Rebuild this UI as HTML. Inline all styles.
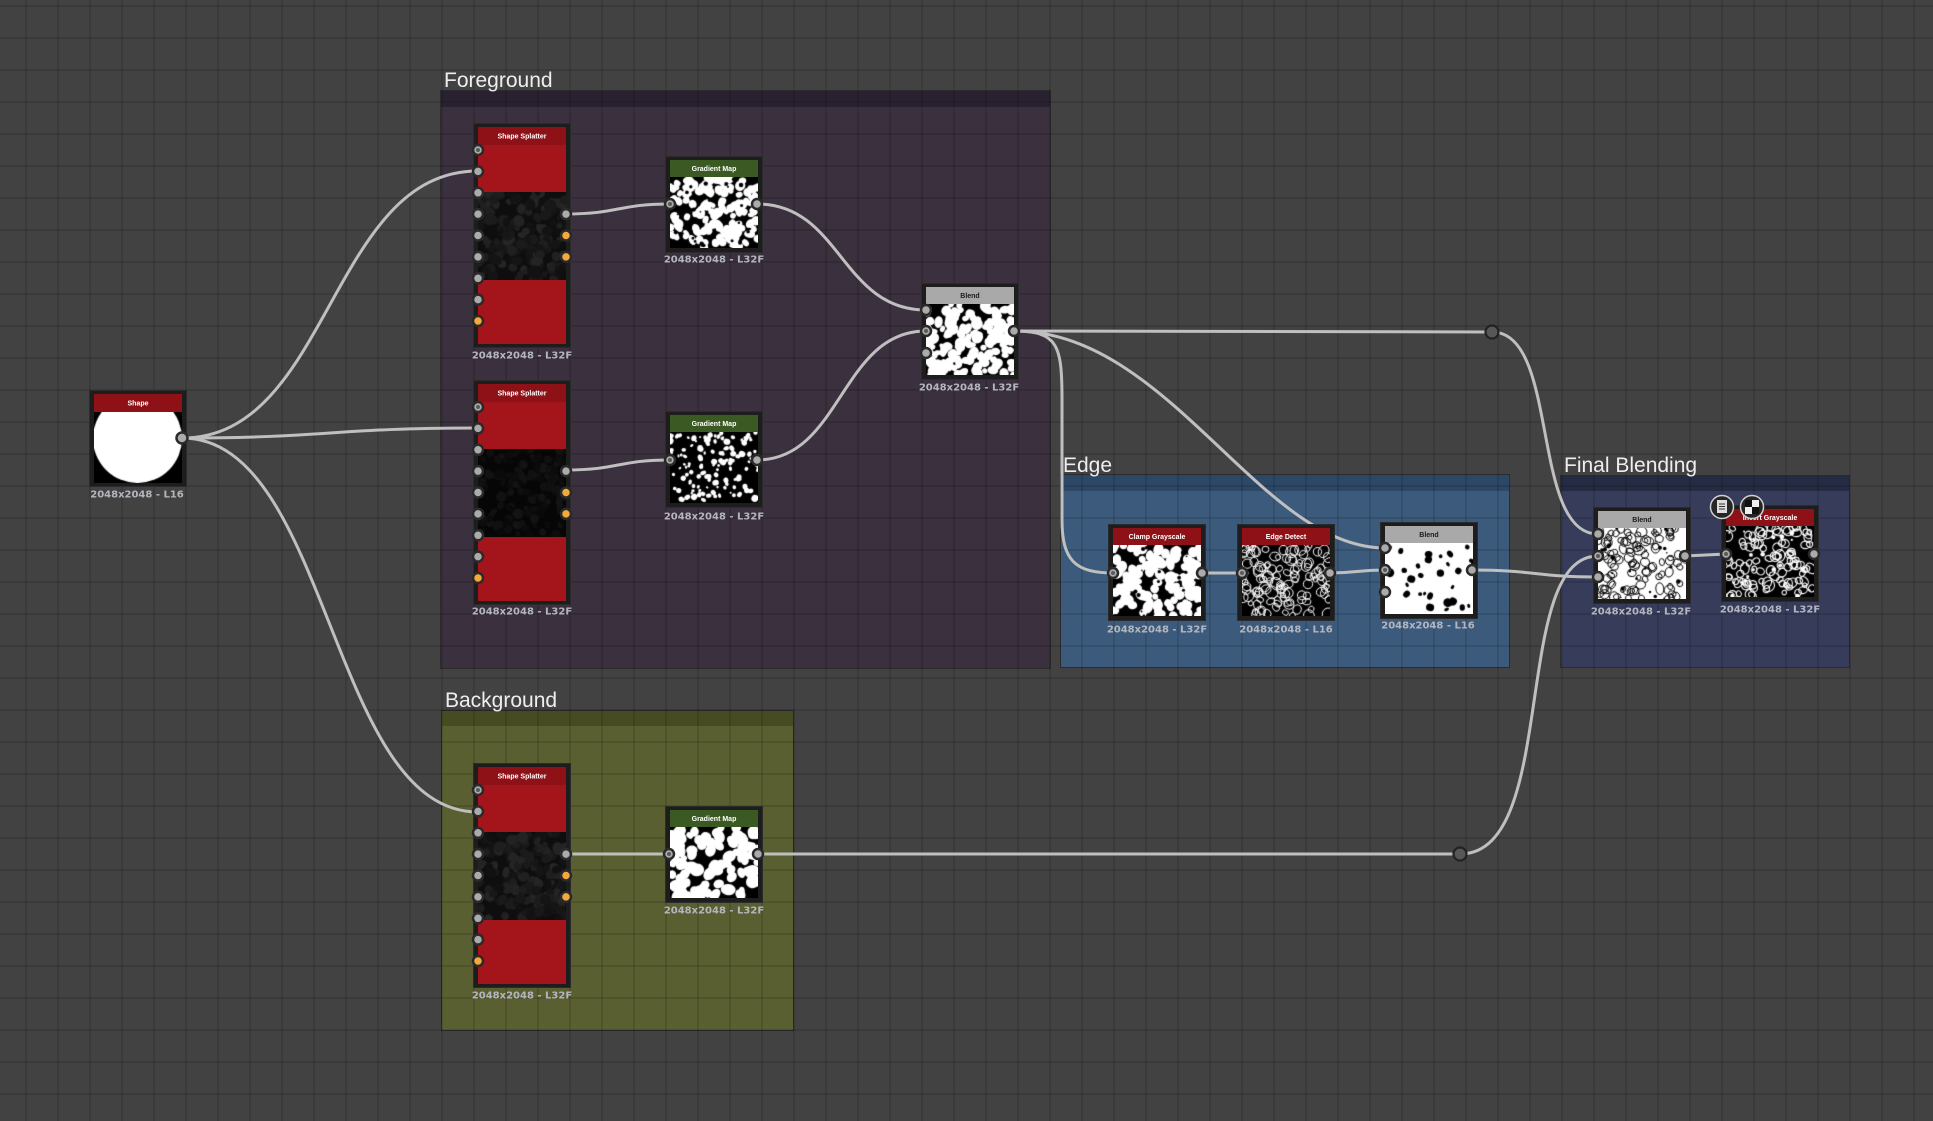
<!DOCTYPE html>
<html><head><meta charset="utf-8">
<style>
html,body{margin:0;padding:0;}
body{width:1933px;height:1121px;overflow:hidden;position:relative;background:#424242;font-family:"Liberation Sans",sans-serif;}
.g{position:absolute;box-shadow:0 0 0 1px rgba(0,0,0,0.35);}
.gh{position:absolute;left:0;top:0;right:0;}
#grid{position:absolute;left:0;top:0;width:1933px;height:1121px;z-index:1;
background-image:linear-gradient(to right,rgba(0,0,0,0.12) 2px,transparent 2px),linear-gradient(to bottom,rgba(0,0,0,0.12) 2px,transparent 2px);
background-size:32px 32px;background-position:25px 5px;}
svg.layer{position:absolute;left:0;top:0;width:1933px;height:1121px;}
#wires{z-index:2;}
#top{z-index:4;}
.n{position:absolute;background:#1d1d1d;z-index:3;box-shadow:0 0 0 1px #2b2b2b;width:96px;height:95px;}
.n .hd{position:absolute;left:4px;top:3px;width:88px;height:17px;}
.n canvas{position:absolute;left:4px;top:20px;width:88px;height:71px;background:#777;}
.red{background:#8d1116;}
.grn{background:#3b5a23;}
.gry{background:#a9a9a9;}
.sp{height:223px;}
.sp .r1{position:absolute;left:4px;top:21px;width:88px;height:47px;background:#a3141b;}
.sp .r2{position:absolute;left:4px;top:156px;width:88px;height:64px;background:#a3141b;}
.sp canvas{top:68px;height:88px;background:#141414;}
</style></head>
<body>

<!-- groups -->
<div class="g" style="left:441px;top:91px;width:609px;height:577px;background:#3b303e;"><div class="gh" style="height:16px;background:#2a2130;"></div></div>
<div class="g" style="left:442px;top:711px;width:351px;height:319px;background:#5a5f31;"><div class="gh" style="height:15px;background:#474b22;"></div></div>
<div class="g" style="left:1061px;top:475px;width:448px;height:192px;background:#3c5b7c;"><div class="gh" style="height:16px;background:#2c4866;"></div></div>
<div class="g" style="left:1561px;top:476px;width:288px;height:191px;background:#363c5a;"><div class="gh" style="height:15px;background:#262b44;"></div></div>

<div id="grid"></div>

<!-- wires -->
<svg id="wires" class="layer" viewBox="0 0 1933 1121">
<g fill="none" stroke="#bfbfbf" stroke-width="3" stroke-linecap="round">
<path d="M182,438 C330,438 330,171 478,171"/>
<path d="M182,438 C330,438 330,428 478,428"/>
<path d="M182,438 C330,438 330,812 478,812"/>
<path d="M566,214 C618,214 618,204 670,204"/>
<path d="M566,470 C618,470 618,460 670,460"/>
<path d="M566,854 L669,854"/>
<path d="M757,204 C841,204 841,310 926,310"/>
<path d="M757,460 C841,460 841,331 926,331"/>
<path d="M1014,331 L1492,332"/>
<path d="M1014,331 C1058,331 1062,345 1062,400 L1062,520 C1062,560 1075,573 1113,573"/>
<path d="M1014,331 C1170,331 1260,548 1385,548"/>
<path d="M1202,573 L1242,573"/>
<path d="M1330,573 C1357,573 1357,570 1385,570"/>
<path d="M1472,570 C1535,570 1535,577 1598,577"/>
<path d="M1492,332 C1560,332 1530,534 1598,534"/>
<path d="M758,854 L1460,854"/>
<path d="M1460,854 C1560,854 1510,556 1598,556"/>
<path d="M1685,556 L1726,554"/>
</g>
</svg>

<!-- nodes -->
<div class="n" style="left:90px;top:391px;"><div class="hd red" style="height:18px"></div><canvas id="c_shape" width="88" height="71" style="top:21px;height:71px"></canvas></div>

<div class="n sp" style="left:474px;top:124px;"><div class="hd red" style="height:18px"></div><div class="r1"></div><canvas id="c_sp1" width="88" height="88"></canvas><div class="r2"></div></div>
<div class="n sp" style="left:474px;top:381px;"><div class="hd red" style="height:18px"></div><div class="r1"></div><canvas id="c_sp2" width="88" height="88"></canvas><div class="r2"></div></div>
<div class="n sp" style="left:474px;top:764px;"><div class="hd red" style="height:18px"></div><div class="r1"></div><canvas id="c_sp3" width="88" height="88"></canvas><div class="r2"></div></div>

<div class="n" style="left:666px;top:157px;"><div class="hd grn"></div><canvas id="c_gm1" width="88" height="71"></canvas></div>
<div class="n" style="left:666px;top:412px;"><div class="hd grn"></div><canvas id="c_gm2" width="88" height="71"></canvas></div>
<div class="n" style="left:666px;top:807px;"><div class="hd grn"></div><canvas id="c_gm3" width="88" height="71"></canvas></div>

<div class="n" style="left:922px;top:284px;"><div class="hd gry"></div><canvas id="c_bl1" width="88" height="71"></canvas></div>

<div class="n" style="left:1109px;top:525px;"><div class="hd red"></div><canvas id="c_cl" width="88" height="71"></canvas></div>
<div class="n" style="left:1238px;top:525px;"><div class="hd red"></div><canvas id="c_ed" width="88" height="71"></canvas></div>
<div class="n" style="left:1381px;top:523px;"><div class="hd gry"></div><canvas id="c_bl2" width="88" height="71"></canvas></div>

<div class="n" style="left:1594px;top:508px;"><div class="hd gry"></div><canvas id="c_bl3" width="88" height="71"></canvas></div>
<div class="n" style="left:1722px;top:506px;"><div class="hd red"></div><canvas id="c_inv" width="88" height="71"></canvas></div>

<!-- top layer: ports, text, icons -->
<svg id="top" class="layer" viewBox="0 0 1933 1121">
<g font-family="'Liberation Sans',sans-serif" font-size="21" fill="#eeeeee">
<text x="444" y="87">Foreground</text>
<text x="445" y="707">Background</text>
<text x="1063" y="472">Edge</text>
<text x="1564" y="472">Final Blending</text>
</g>

<g font-family="'Liberation Sans',sans-serif" font-size="7" font-weight="bold" text-anchor="middle" fill="#ffffff">
<text x="138" y="405.5">Shape</text>
<text x="522" y="138.5">Shape Splatter</text>
<text x="522" y="395.5">Shape Splatter</text>
<text x="522" y="778.5">Shape Splatter</text>
<text x="714" y="171">Gradient Map</text>
<text x="714" y="426">Gradient Map</text>
<text x="714" y="821">Gradient Map</text>
<text x="1157" y="539">Clamp Grayscale</text>
<text x="1286" y="539">Edge Detect</text>
<text x="1770" y="520">Invert Grayscale</text>
</g>
<g font-family="'Liberation Sans',sans-serif" font-size="7" font-weight="bold" text-anchor="middle" fill="#1a1a1a">
<text x="970" y="298">Blend</text>
<text x="1429" y="537">Blend</text>
<text x="1642" y="522">Blend</text>
</g>

<g font-family="'DejaVu Sans',sans-serif" font-size="10" font-weight="bold" text-anchor="middle" fill="#b4b6bf">
<text x="137" y="497.6">2048x2048 - L16</text>
<text x="522" y="358.6">2048x2048 - L32F</text>
<text x="522" y="614.6">2048x2048 - L32F</text>
<text x="522" y="998.6">2048x2048 - L32F</text>
<text x="714" y="262.6">2048x2048 - L32F</text>
<text x="714" y="519.6">2048x2048 - L32F</text>
<text x="714" y="913.6">2048x2048 - L32F</text>
<text x="969" y="390.6">2048x2048 - L32F</text>
<text x="1157" y="632.6">2048x2048 - L32F</text>
<text x="1286" y="632.6">2048x2048 - L16</text>
<text x="1428" y="628.6">2048x2048 - L16</text>
<text x="1641" y="614.6">2048x2048 - L32F</text>
<text x="1770" y="612.6">2048x2048 - L32F</text>
</g>

<!-- grey ports -->
<g fill="#ababab" stroke="#2a2a2a" stroke-width="2.5">
<circle cx="182" cy="438" r="5.5"/>
<circle cx="478" cy="150" r="5"/><circle cx="478" cy="171.4" r="5"/><circle cx="478" cy="192.8" r="5"/><circle cx="478" cy="214.1" r="5"/><circle cx="478" cy="235.5" r="5"/><circle cx="478" cy="256.9" r="5"/><circle cx="478" cy="278.3" r="5"/><circle cx="478" cy="299.6" r="5"/>
<circle cx="566" cy="214.1" r="5"/>
<circle cx="478" cy="407" r="5"/><circle cx="478" cy="428.4" r="5"/><circle cx="478" cy="449.8" r="5"/><circle cx="478" cy="471.1" r="5"/><circle cx="478" cy="492.5" r="5"/><circle cx="478" cy="513.9" r="5"/><circle cx="478" cy="535.3" r="5"/><circle cx="478" cy="556.6" r="5"/>
<circle cx="566" cy="471.1" r="5"/>
<circle cx="478" cy="790" r="5"/><circle cx="478" cy="811.4" r="5"/><circle cx="478" cy="832.8" r="5"/><circle cx="478" cy="854.1" r="5"/><circle cx="478" cy="875.5" r="5"/><circle cx="478" cy="896.9" r="5"/><circle cx="478" cy="918.3" r="5"/><circle cx="478" cy="939.6" r="5"/>
<circle cx="566" cy="854.1" r="5"/>
<circle cx="670" cy="204" r="5"/><circle cx="757" cy="204" r="5"/>
<circle cx="670" cy="460" r="5"/><circle cx="757" cy="460" r="5"/>
<circle cx="669" cy="854" r="5"/><circle cx="758" cy="854" r="5"/>
<circle cx="926" cy="310" r="5"/><circle cx="926" cy="331" r="5"/><circle cx="926" cy="353" r="5"/><circle cx="1014" cy="331" r="5"/>
<circle cx="1113" cy="573" r="5"/><circle cx="1202" cy="573" r="5"/>
<circle cx="1242" cy="573" r="5"/><circle cx="1330" cy="573" r="5"/>
<circle cx="1385" cy="548" r="5"/><circle cx="1385" cy="570" r="5"/><circle cx="1385" cy="592" r="5"/><circle cx="1472" cy="570" r="5"/>
<circle cx="1598" cy="534" r="5"/><circle cx="1598" cy="556" r="5"/><circle cx="1598" cy="577" r="5"/><circle cx="1685" cy="556" r="5"/>
<circle cx="1726" cy="554" r="5"/><circle cx="1814" cy="554" r="5"/>
</g>
<g fill="#5a5a5a">
<circle cx="478" cy="150" r="2"/><circle cx="478" cy="407" r="2"/><circle cx="478" cy="790" r="2"/>
<circle cx="670" cy="204" r="2"/><circle cx="670" cy="460" r="2"/><circle cx="669" cy="854" r="2"/>
<circle cx="926" cy="331" r="2"/><circle cx="1113" cy="573" r="2"/><circle cx="1242" cy="573" r="2"/>
<circle cx="1385" cy="570" r="2"/><circle cx="1598" cy="556" r="2"/><circle cx="1726" cy="554" r="2"/>
</g>
<g fill="#f5a93a" stroke="#2a2a2a" stroke-width="2.5">
<circle cx="478" cy="321" r="5"/><circle cx="566" cy="235.5" r="5"/><circle cx="566" cy="256.9" r="5"/>
<circle cx="478" cy="578" r="5"/><circle cx="566" cy="492.5" r="5"/><circle cx="566" cy="513.9" r="5"/>
<circle cx="478" cy="961" r="5"/><circle cx="566" cy="875.5" r="5"/><circle cx="566" cy="896.9" r="5"/>
</g>
<g fill="#575757" stroke="#222" stroke-width="2.2">
<circle cx="1492" cy="332" r="6.5"/>
<circle cx="1460" cy="854" r="6.5"/>
</g>
<circle cx="1722" cy="507" r="11.5" fill="#262626" stroke="#d0d0d0" stroke-width="1.5"/>
<rect x="1717" y="500" width="10" height="13" fill="#dddddd"/>
<g stroke="#333" stroke-width="1"><line x1="1719" y1="504" x2="1725" y2="504"/><line x1="1719" y1="506.5" x2="1725" y2="506.5"/><line x1="1719" y1="509" x2="1725" y2="509"/></g>
<circle cx="1752" cy="507" r="11.5" fill="#262626" stroke="#d0d0d0" stroke-width="1.5"/>
<rect x="1745" y="500" width="14" height="14" fill="#eeeeee"/>
<rect x="1745" y="500" width="7" height="7" fill="#111"/>
<rect x="1752" y="507" width="7" height="7" fill="#111"/>
</svg>

<script>
function rng(a){return function(){a|=0;a=a+0x6D2B79F5|0;var t=Math.imul(a^a>>>15,1|a);t=t+Math.imul(t^t>>>7,61|t)^t;return((t^t>>>14)>>>0)/4294967296;};}
function ctxOf(id){var c=document.getElementById(id);return c?c.getContext('2d'):null;}
function blobs(id,seed,bg,fg,n,rmin,rmax,mode,lw){
  var x=ctxOf(id);if(!x)return;var c=x.canvas,w=c.width,h=c.height,r=rng(seed);
  x.fillStyle=bg;x.fillRect(0,0,w,h);
  for(var i=0;i<n;i++){
    var cx=r()*w,cy=r()*h,rad=rmin+r()*(rmax-rmin);
    x.beginPath();
    x.ellipse(cx,cy,rad*(0.75+r()*0.5),rad*(0.75+r()*0.5),r()*3.14,0,6.283);
    if(mode==='s'){x.strokeStyle=(typeof fg==='function')?fg(r):fg;x.lineWidth=lw||1;x.stroke();}
    else{x.fillStyle=(typeof fg==='function')?fg(r):fg;x.fill();}
  }
}
function greys(lo,hi){return function(r){var v=Math.round(lo+r()*(hi-lo));return 'rgb('+v+','+v+','+v+')';};}
(function(){var x=ctxOf('c_shape');if(!x)return;x.fillStyle='#000';x.fillRect(0,0,88,71);x.fillStyle='#fff';x.beginPath();x.arc(43.5,26.5,44.5,0,6.283);x.fill();})();
blobs('c_sp1',11,'#0e0e0e',greys(16,38),170,3,6);
blobs('c_sp2',12,'#060606',greys(8,20),160,2.5,5);
blobs('c_sp3',13,'#0e0e0e',greys(16,38),170,3,6);
(function(){blobs('c_gm1',21,'#000','#fff',150,2.5,5);var x=ctxOf('c_gm1');if(!x)return;var r=rng(24);x.fillStyle='#000';for(var i=0;i<30;i++){x.beginPath();x.arc(r()*88,r()*71,0.8+r()*1.5,0,6.283);x.fill();}})();
blobs('c_gm2',22,'#000','#fff',130,1.2,3);
blobs('c_gm3',23,'#000','#fff',95,3.5,6.5);
blobs('c_bl1',31,'#000','#fff',160,2.5,5.5);
(function(){blobs('c_cl',41,'#000','#fff',120,3,6);var x=ctxOf('c_cl');if(!x)return;var r=rng(44);x.fillStyle='#000';for(var i=0;i<20;i++){x.beginPath();x.arc(r()*88,r()*71,0.8+r()*1.5,0,6.283);x.fill();}})();
blobs('c_ed',42,'#000','#fff',120,2.5,5.5,'s',1);
blobs('c_bl2',43,'#fff','#000',30,1.5,3.8);
(function(){blobs('c_bl3',51,'#fff','#000',100,2.5,5,'s',1);var x=ctxOf('c_bl3');if(!x)return;var r=rng(52);x.fillStyle='#000';for(var i=0;i<25;i++){x.beginPath();x.arc(r()*88,r()*71,0.8+r()*1.6,0,6.283);x.fill();}})();
(function(){blobs('c_inv',61,'#000','#fff',100,2.5,5,'s',1.1);var x=ctxOf('c_inv');if(!x)return;var r=rng(62);x.fillStyle='#fff';for(var i=0;i<22;i++){x.beginPath();x.arc(r()*88,r()*71,0.8+r()*1.8,0,6.283);x.fill();}})();
</script>
</body></html>
